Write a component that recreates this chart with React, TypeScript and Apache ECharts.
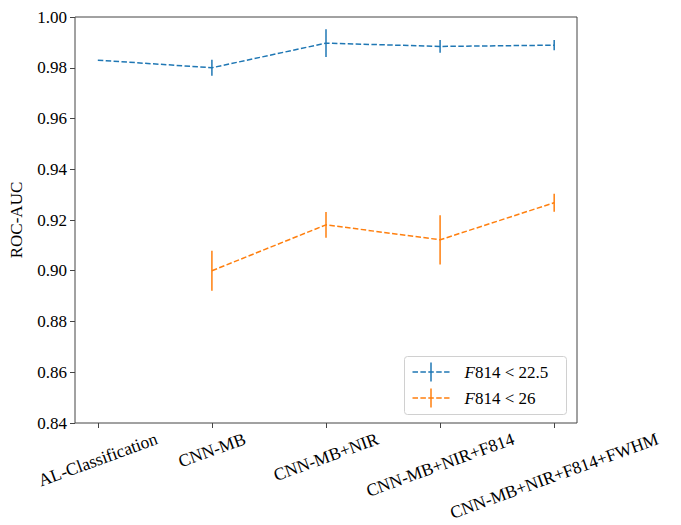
import React, { useEffect, useRef } from "react";
import * as echarts from "echarts";

const categories = [
  "AL-Classification",
  "CNN-MB",
  "CNN-MB+NIR",
  "CNN-MB+NIR+F814",
  "CNN-MB+NIR+F814+FWHM",
];
const brightValues: (number | null)[] = [0.983, 0.98, 0.9897, 0.9884, 0.9889];
const brightErrors: (number | null)[] = [0, 0.0032, 0.0055, 0.0025, 0.002];
const faintValues: (number | null)[] = [null, 0.9, 0.9181, 0.9122, 0.9268];
const faintErrors: (number | null)[] = [null, 0.0079, 0.0051, 0.0097, 0.0035];
const seriesNames = ["F814 < 22.5", "F814 < 26"];
const yMin = 0.84;
const yMax = 1.0;
const yStep = 0.02;

const BLUE = "#1f77b4";
const ORANGE = "#ff7f0e";
const FONT = "'Liberation Serif', 'DejaVu Serif', serif";
const FS = 17;
const XFS = 17.5;

function measure(text: string, size: number): number {
  const c = document.createElement("canvas");
  const ctx = c.getContext("2d");
  if (!ctx) return text.length * 8;
  ctx.font = `${size}px ${FONT}`;
  return ctx.measureText(text).width;
}

export default function App() {
  const ref = useRef<HTMLDivElement>(null);
  useEffect(() => {
    document.body.style.margin = "0";
    if (!ref.current) return;
    const chart = echarts.init(ref.current, undefined, { renderer: "svg" });
    const ang = (20 * Math.PI) / 180;
    const rich: Record<string, any> = {};
    categories.forEach((c, i) => {
      const w = measure(c, XFS);
      const D = (w / 2) * Math.sin(ang);
      rich["l" + i] = {
        fontFamily: FONT,
        fontSize: XFS,
        color: "#000",
        padding: [2 * D * Math.cos(ang), 2 * D * Math.sin(ang), 0, 0],
      };
    });
    const mkLine = (vals: (number | null)[]) =>
      vals
        .map((v, i) => (v == null ? null : [i, v]))
        .filter((d) => d != null);
    const mkErr = (vals: (number | null)[], errs: (number | null)[]) =>
      vals
        .map((v, i) =>
          v == null || errs[i] == null || errs[i] === 0
            ? null
            : [i, v, v - (errs[i] as number), v + (errs[i] as number)]
        )
        .filter((d) => d != null);
    const errSeries = (name: string, data: any[], color: string) => ({
      type: "custom",
      name,
      data,
      z: 3,
      renderItem: (params: any, api: any) => {
        const x = api.value(0);
        const lo = api.coord([x, api.value(2)]);
        const hi = api.coord([x, api.value(3)]);
        return {
          type: "line",
          shape: { x1: lo[0], y1: lo[1], x2: hi[0], y2: hi[1] },
          style: { stroke: color, lineWidth: 1.5 },
        };
      },
    });
    const legendEntry = (y: number, color: string, label: string) => [
      {
        type: "line",
        shape: { x1: 8, y1: y, x2: 45, y2: y },
        style: { stroke: color, lineWidth: 1.5, lineDash: [5.5, 2.4] },
      },
      {
        type: "line",
        shape: { x1: 26.5, y1: y - 9.5, x2: 26.5, y2: y + 9.5 },
        style: { stroke: color, lineWidth: 1.5 },
      },
      {
        type: "text",
        x: 60,
        y: y,
        style: {
          text: "{i|" + label.slice(0, 1) + "}{n|" + label.slice(1) + "}",
          verticalAlign: "middle",
          rich: {
            i: { fontFamily: FONT, fontSize: FS, fontStyle: "italic", fill: "#000" },
            n: { fontFamily: FONT, fontSize: FS, fill: "#000" },
          },
        },
      },
    ];
    chart.setOption({
      animation: false,
      backgroundColor: "#fff",
      textStyle: { fontFamily: FONT },
      grid: {
        left: 70,
        right: 104,
        top: 17,
        bottom: 102,
        show: true,
        borderColor: "#444",
        borderWidth: 1,
        backgroundColor: "transparent",
      },
      xAxis: {
        type: "value",
        min: -0.2,
        max: 4.2,
        axisLine: { show: false, onZero: false },
        splitLine: { show: false },
        axisTick: {
          show: true,
          length: 5,
          lineStyle: { color: "#444" },
          customValues: [0, 1, 2, 3, 4],
        },
        axisLabel: {
          customValues: [0, 1, 2, 3, 4],
          rotate: 20,
          align: "center",
          verticalAlign: "middle",
          margin: 15,
          fontFamily: FONT,
          fontSize: XFS,
          formatter: (v: number) => {
            const i = Math.round(v);
            return "{l" + i + "|" + categories[i] + "}";
          },
          rich,
        },
      },
      yAxis: {
        type: "value",
        min: yMin,
        max: yMax,
        interval: yStep,
        name: "ROC-AUC",
        nameLocation: "middle",
        nameGap: 50,
        nameTextStyle: { fontFamily: FONT, fontSize: FS, color: "#000" },
        axisLine: { show: false, onZero: false },
        splitLine: { show: false },
        axisTick: { show: true, length: 5, lineStyle: { color: "#444" } },
        axisLabel: {
          fontFamily: FONT,
          fontSize: FS,
          color: "#000",
          margin: 8,
          formatter: (v: number) => v.toFixed(2),
        },
      },
      series: [
        {
          type: "line",
          name: seriesNames[0],
          data: mkLine(brightValues),
          symbol: "none",
          lineStyle: { color: BLUE, width: 1.5, type: [5.5, 2.4] },
          itemStyle: { color: BLUE },
          z: 2,
        },
        errSeries(seriesNames[0], mkErr(brightValues, brightErrors), BLUE),
        {
          type: "line",
          name: seriesNames[1],
          data: mkLine(faintValues),
          symbol: "none",
          lineStyle: { color: ORANGE, width: 1.5, type: [5.5, 2.4] },
          itemStyle: { color: ORANGE },
          z: 2,
        },
        errSeries(seriesNames[1], mkErr(faintValues, faintErrors), ORANGE),
      ],
      graphic: [
        {
          type: "group",
          left: 404,
          top: 356,
          z: 10,
          children: [
            {
              type: "rect",
              shape: { x: 0, y: 0, width: 162, height: 58, r: 3 },
              style: { fill: "rgba(255,255,255,0.8)", stroke: "#d0d0d0", lineWidth: 1 },
            },
            ...legendEntry(15.5, BLUE, seriesNames[0]),
            ...legendEntry(41.5, ORANGE, seriesNames[1]),
          ],
        },
      ],
    });
    return () => chart.dispose();
  }, []);
  return <div ref={ref} style={{ width: 681, height: 525 }} />;
}
